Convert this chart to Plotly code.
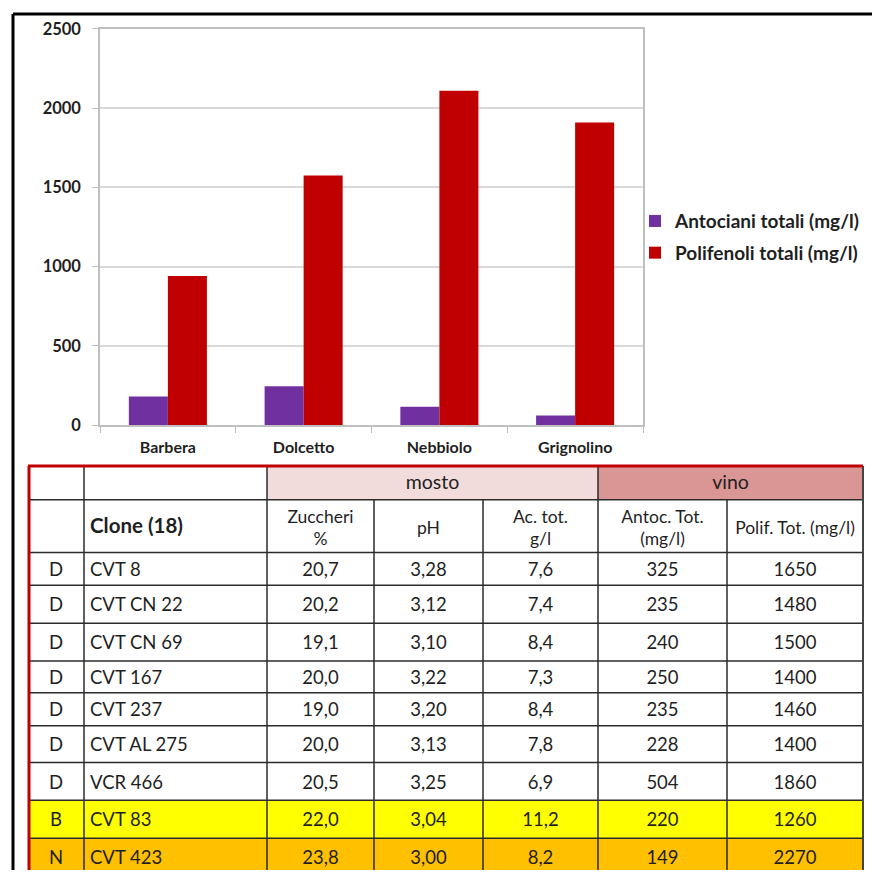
import plotly.graph_objects as go

# ---------------- data ----------------
varieties = ["Barbera", "Dolcetto", "Nebbiolo", "Grignolino"]
antociani = [180, 245, 115, 60]
polifenoli = [940, 1575, 2110, 1910]
y_ticks = [0, 500, 1000, 1500, 2000, 2500]

vitigno = ["D", "D", "D", "D", "D", "D", "D", "B", "N"]
clones = ["CVT 8", "CVT CN 22", "CVT CN 69", "CVT 167", "CVT 237",
          "CVT AL 275", "VCR 466", "CVT 83", "CVT 423"]
zuccheri = ["20,7", "20,2", "19,1", "20,0", "19,0", "20,0", "20,5", "22,0", "23,8"]
ph = ["3,28", "3,12", "3,10", "3,22", "3,20", "3,13", "3,25", "3,04", "3,00"]
acidita = ["7,6", "7,4", "8,4", "7,3", "8,4", "7,8", "6,9", "11,2", "8,2"]
antoc_tot = [325, 235, 240, 250, 235, 228, 504, 220, 149]
polif_tot = [1650, 1480, 1500, 1400, 1460, 1400, 1860, 1260, 2270]
group_headers = ["mosto", "vino"]
col_headers = ["Zuccheri<br>%", "pH", "Ac. tot.<br>g/l", "Antoc. Tot.<br>(mg/l)", "Polif. Tot. (mg/l)"]
clone_header = "Clone (18)"

# ---------------- layout constants ----------------
W, H = 872, 880
Y0, SPAN = 8, 864          # observed vertical mapping of the figure in the capture
def p(Y):                   # picture pixel row -> paper fraction
    return 1 - (Y - Y0) / SPAN

FONT = "Lato"
col_x = [28, 84, 267, 374, 483, 598, 727, 863]          # column boundaries (px)
row_y = [466, 500, 553, 586, 624, 662, 694, 727, 764, 802, 840, 878]  # row boundaries (px)
row_fill = ["white"] * 7 + ["#FFFF00", "#FFC000"]

fig = go.Figure()

# ---------------- bar chart ----------------
fig.add_trace(go.Bar(x=varieties, y=antociani, name="Antociani totali (mg/l)",
                     marker=dict(color="#7030A0", line=dict(width=0)),
                     legendgroup="a", hoverinfo="skip"))
fig.add_trace(go.Bar(x=varieties, y=polifenoli, name="Polifenoli totali (mg/l)",
                     marker=dict(color="#C00000", line=dict(width=0)),
                     legendgroup="b", hoverinfo="skip"))

# ---------------- table (pixel axes x2/y2) ----------------
shapes = []
def rect(x0, y0, x1, y1, fill):
    shapes.append(dict(type="rect", xref="x2", yref="y2", x0=x0, y0=y0, x1=x1, y1=y1,
                       fillcolor=fill, line=dict(width=0), layer="below"))
def line(x0, y0, x1, y1, color, width):
    shapes.append(dict(type="line", xref="x2", yref="y2", x0=x0, y0=y0, x1=x1, y1=y1,
                       line=dict(color=color, width=width)))

rect(col_x[2], row_y[0], col_x[5], row_y[1], "#F2DCDB")
rect(col_x[5], row_y[0], col_x[7], row_y[1], "#DA9694")
for i, f in enumerate(row_fill):
    if f != "white":
        rect(col_x[0], row_y[i + 2], col_x[7], row_y[i + 3], f)

grid = "#2b2b2b"
for y in row_y[1:]:
    line(col_x[0], y, col_x[7], y, grid, 1.5)
line(col_x[1], row_y[0], col_x[1], row_y[-1], grid, 1.5)
line(col_x[2], row_y[0], col_x[2], row_y[-1], grid, 1.5)
for x in col_x[3:5]:
    line(x, row_y[1], x, row_y[-1], grid, 1.5)
line(col_x[5], row_y[0], col_x[5], row_y[-1], grid, 1.5)
line(col_x[6], row_y[1], col_x[6], row_y[-1], grid, 1.5)
line(col_x[7], row_y[0], col_x[7], row_y[-1], "#444444", 2)
line(col_x[0], row_y[0], col_x[7], row_y[0], "#C00000", 3)
line(col_x[0] + 1, row_y[0], col_x[0] + 1, row_y[-1], "#C00000", 3)

# outer black frame of the picture
line(13, 12, W + 5, 12, "black", 3)
line(13, 12, 13, H + 20, "black", 3)

cx = [(col_x[i] + col_x[i + 1]) / 2 for i in range(len(col_x) - 1)]
row_c = [(row_y[i] + row_y[i + 1]) / 2 + 2.5 for i in range(2, len(row_y) - 1)]
txt_col = "#1f1f1f"
DATA_SIZE = 18.5

def text_trace(xs, ys, texts, size, pos="middle center"):
    fig.add_trace(go.Scatter(
        x=xs, y=ys, text=texts, mode="text", textposition=pos,
        textfont=dict(family=FONT, size=size, color=txt_col),
        xaxis="x2", yaxis="y2", showlegend=False, hoverinfo="skip", cliponaxis=False))

text_trace([(col_x[2] + col_x[5]) / 2, (col_x[5] + col_x[7]) / 2],
           [(row_y[0] + row_y[1]) / 2 + 1] * 2, group_headers, 19.5)
hy = (row_y[1] + row_y[2]) / 2
text_trace(cx[2:], [hy + 3.5] * 5, col_headers, 17.5)
text_trace([col_x[1] + 6], [hy + 2], ["<b>" + clone_header + "</b>"], 20.5, "middle right")
text_trace([cx[0]] * len(vitigno), row_c, vitigno, DATA_SIZE)
text_trace([col_x[1] + 6] * len(clones), row_c, clones, DATA_SIZE, "middle right")
for j, col in enumerate([zuccheri, ph, acidita, antoc_tot, polif_tot]):
    text_trace([cx[j + 2]] * len(col), row_c, [str(v) for v in col], DATA_SIZE)

fig.update_layout(
    width=W, height=H, margin=dict(l=0, r=0, t=0, b=0),
    paper_bgcolor="white", plot_bgcolor="rgba(0,0,0,0)",
    barmode="group", bargap=0.425, bargroupgap=0,
    font=dict(family=FONT, color="#1f1f1f"),
    shapes=shapes,
    legend=dict(x=635 / W, y=p(201), xanchor="left", yanchor="top",
                font=dict(family=FONT, size=19, color="#1f1f1f", weight="bold"),
                traceorder="grouped", tracegroupgap=4, bgcolor="rgba(0,0,0,0)"),
    xaxis=dict(domain=[100 / W, 643 / W], showgrid=False, showline=True,
               linecolor="#BFBFBF", linewidth=1.5, mirror=True,
               ticks="outside", tickson="boundaries", ticklen=6, tickcolor="#BFBFBF",
               tickfont=dict(family=FONT, size=16, color="#1f1f1f", weight="bold"),
               ticklabelstandoff=7, fixedrange=True),
    yaxis=dict(domain=[p(425), p(27)], range=[0, 2500], tickvals=y_ticks,
               showgrid=True, gridcolor="#D9D9D9", gridwidth=1.5,
               showline=True, linecolor="#BFBFBF", linewidth=1.5, mirror=True,
               ticks="outside", ticklen=6, tickcolor="#BFBFBF",
               tickfont=dict(family=FONT, size=16.5, color="#1f1f1f", weight="bold"),
               ticklabelstandoff=8, zeroline=False, fixedrange=True),
    xaxis2=dict(domain=[0, 1], range=[0, W], visible=False, anchor="y2", fixedrange=True),
    yaxis2=dict(domain=[0, 1], range=[Y0 + SPAN, Y0], visible=False, anchor="x2",
                fixedrange=True),
)

fig.write_html("out.html")
